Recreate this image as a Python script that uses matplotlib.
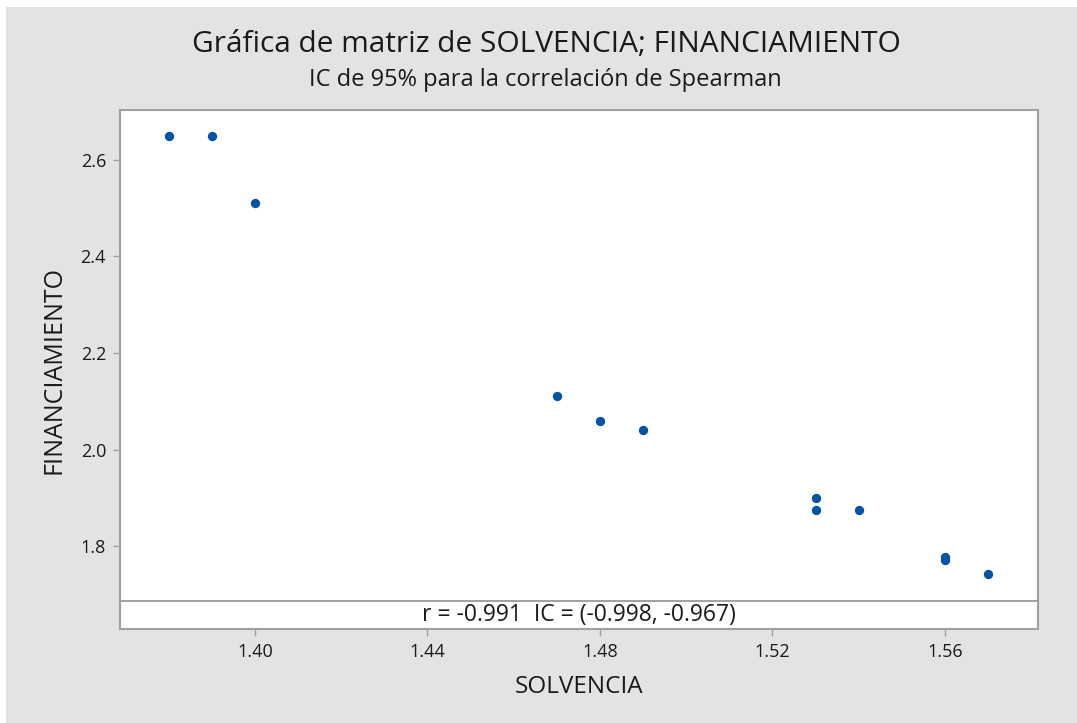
import matplotlib
matplotlib.use("Agg")
import matplotlib.pyplot as plt
from matplotlib.patches import Rectangle

solvencia = [1.38, 1.39, 1.40, 1.47, 1.48, 1.49, 1.53, 1.53, 1.54, 1.56, 1.56, 1.57]
financiamiento = [2.65, 2.65, 2.51, 2.11, 2.06, 2.04, 1.90, 1.875, 1.875, 1.777, 1.771, 1.742]
x_ticks = [1.40, 1.44, 1.48, 1.52, 1.56]
y_ticks = [1.8, 2.0, 2.2, 2.4, 2.6]
title = "Gráfica de matriz de SOLVENCIA; FINANCIAMIENTO"
subtitle = "IC de 95% para la correlación de Spearman"
stats_text = "r = -0.991  IC = (-0.998, -0.967)"

W, H = 1077, 723
plt.rcParams['font.family'] = ['Open Sans', 'DejaVu Sans']
fig = plt.figure(figsize=(W / 100, H / 100), dpi=100, facecolor='white')
bg = '#e3e3e3'
fig.patches.append(Rectangle((6 / W, 0), 1 - 6 / W, 1 - 7 / H, transform=fig.transFigure,
                             facecolor=bg, edgecolor='none', zorder=-10))

left, right, top, bottom = 120, 1038, 110, 629
ax = fig.add_axes([left / W, 1 - bottom / H, (right - left) / W, (bottom - top) / H])
ax.set_facecolor('white')
ax.scatter(solvencia, financiamiento, s=45, color='#0054a6', zorder=3, linewidths=0)

ax.set_xlim(1.3687, 1.5816)
ax.set_ylim(1.628, 2.7036)
strip_y = 1.686
ax.axhline(strip_y, color='#9a9a9a', lw=1.3)
ax.text(sum(ax.get_xlim()) / 2, (strip_y + ax.get_ylim()[0]) / 2, stats_text,
        ha='center', va='center', fontsize=16.5, color='#1a1a1a')

ax.set_xticks(x_ticks)
ax.set_xticklabels([f"{v:.2f}" for v in x_ticks])
ax.set_yticks(y_ticks)
ax.set_yticklabels([f"{v:.1f}" for v in y_ticks])
for s in ax.spines.values():
    s.set_color('#a0a0a0')
    s.set_linewidth(1.5)
ax.tick_params(axis='both', colors='#a0a0a0', length=5, width=1, labelcolor='#1a1a1a',
               labelsize=13, pad=5)

ax.set_xlabel("SOLVENCIA", fontsize=17.5, color='#1a1a1a', labelpad=10)
ax.set_ylabel("FINANCIAMIENTO", fontsize=18, color='#1a1a1a', labelpad=10)

fig.text(546 / W, 1 - 45 / H, title, ha='center', va='center', fontsize=21.5, color='#1a1a1a')
fig.text(545 / W, 1 - 80 / H, subtitle, ha='center', va='center', fontsize=17, color='#1a1a1a')

fig.savefig("out.png", dpi=100, facecolor=fig.get_facecolor())
